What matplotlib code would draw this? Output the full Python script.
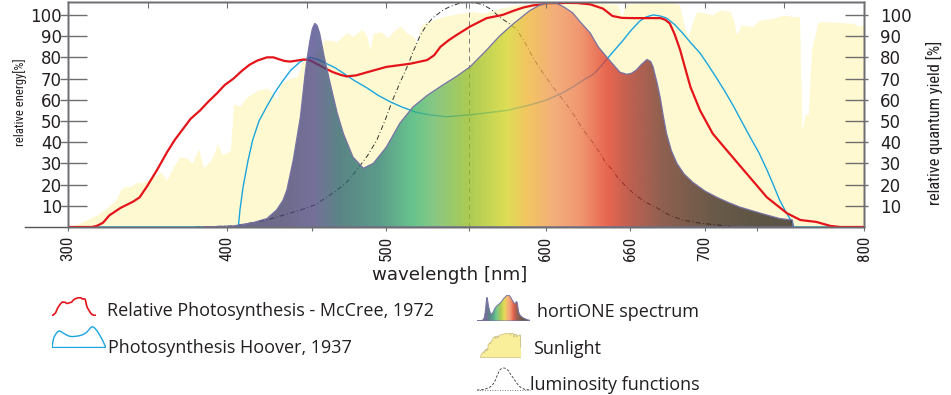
import numpy as np
import matplotlib
matplotlib.use('Agg')
import matplotlib.pyplot as plt
from matplotlib import font_manager as fm
from matplotlib.colors import to_rgb

W, H = 951, 395

# ---- data (wavelength nm, percent) ----
sun_nm = [300, 305, 309, 315, 320, 326, 330, 333, 336, 339, 343, 347, 352, 358, 362,
          366, 370, 375, 378, 382, 385, 388, 391, 394, 397, 402, 404, 408, 412, 416,
          419, 425, 429, 431, 434, 439, 444, 447, 452, 457, 461, 465, 469, 475, 479,
          484.7, 487.8, 489.7, 491.7, 497, 501, 504, 508.5, 513, 517, 519, 522, 529,
          535.5, 544, 554, 561, 571, 582, 592, 610, 630, 645, 648, 650, 660, 675, 684,
          687, 689.5, 692, 695, 701, 704.6, 709.5, 716, 718, 720, 723, 730, 734.5, 743,
          749, 755.5, 759.5, 761, 763, 765, 767, 771, 772, 785, 793, 797.5, 800]
sun_val = [0, 1, 2.5, 4.5, 6.5, 10, 12.7, 17.5, 19, 19, 21, 21, 23, 26, 22,
           28, 33, 32.5, 30, 37, 28, 30, 33, 39.5, 34, 36, 58, 57, 61, 63,
           64.5, 65.5, 63, 60, 68, 70, 71, 78, 79.5, 83, 88.2, 88, 87.4, 91.5, 89.8,
           93.3, 89.8, 83.5, 91.4, 92, 89, 92, 94.8, 91.4, 89.8, 86.8, 95.3, 97.6,
           99.2, 100.5, 101.6, 100.8, 103, 104.7, 105.2, 105.6, 105.6, 105, 99, 105, 105.8, 105.8, 105,
           95, 89.8, 96, 101.6, 100.8, 100, 102.4, 101.6, 97.6, 90.6, 95.3, 94.5, 97.6, 98.4,
           100, 99.2, 99.2, 45.5, 53, 53, 83.5, 96, 96.8, 96.5, 96, 94.5, 96]

mccree_nm = [300, 315, 318, 322, 326, 333, 341, 345, 349.5, 356, 362, 367, 372, 377, 383,
             388, 393.5, 398.5, 404, 409, 414, 419, 425, 429, 433, 436, 439.5, 444, 448,
             452, 456, 461, 466.5, 471, 475, 481, 488, 500, 515, 525.5, 530, 534, 539, 544,
             552.5, 558, 563, 573, 580, 586, 592, 602, 613, 620, 628, 636, 642, 648, 655,
             665, 672, 675, 678, 681, 684.5, 688, 691, 697, 705, 714, 726.5, 739, 751.6,
             760, 770, 779, 785, 800]
mccree_val = [0, 0, 0.5, 2, 5.5, 9, 12, 14, 19, 27, 35, 41, 46, 51, 55,
              59, 63, 67, 70, 73.5, 76.5, 78.5, 80, 80, 79, 78.3, 78, 78.5, 79,
              78.6, 77, 75, 73, 71.8, 71, 71.5, 73, 75.5, 77, 78.7, 81, 85, 88, 90.5,
              94.5, 96.6, 98.5, 100, 102, 103.5, 104.5, 105.3, 105.7, 105.6, 105, 103, 99.5, 98.6, 98.5,
              98.5, 98.5, 97.8, 96, 91, 83.5, 74, 66, 55, 44, 36, 25, 14, 6.5,
              3.3, 2.4, 0.5, 0, 0]

hoover_nm = [300, 407, 408, 410, 413, 416, 420, 425, 430, 435, 440, 446, 452, 457, 462.5,
             468, 473, 480, 488, 495, 502.5, 510, 519, 528, 538, 554, 565, 576, 590, 601,
             610, 617, 624, 630, 635, 640, 648.6, 654, 659, 663, 667.5, 672, 676, 681, 686,
             691, 697, 702, 707.6, 713, 718, 723, 728.4, 734, 739, 743, 747, 751, 755, 756, 800]
hoover_val = [0, 0, 8, 19, 31, 41, 50, 57, 63.5, 69, 74, 78, 80, 79, 77,
              75, 72.5, 69, 65.5, 62, 59, 56.5, 54, 52.8, 52, 53, 54, 55, 57.5, 60,
              63, 66, 69.5, 72, 76, 80.5, 88, 93, 97, 99, 100, 99.5, 98.5, 95.5, 91.5,
              87, 82, 76.5, 70, 63.5, 57, 50, 42.5, 35, 27, 20, 12.7, 7, 2, 0, 0]

lum_nm = [380, 404, 425, 446, 455, 466.5, 475, 481.5, 488, 494, 499, 504, 508.5, 513, 517,
          521, 525, 529, 535, 540, 546, 551, 556, 561, 566, 571, 577, 582, 587, 592, 598,
          604.6, 611, 617, 623, 630, 634, 638, 642, 645, 650, 655, 662, 670, 678, 686, 697,
          707.6, 720]
lum_val = [0, 0.5, 3.3, 8, 10.4, 16, 21, 27, 33.5, 41, 50, 60, 68, 75.5, 83,
           90, 95, 98.5, 102, 104, 105.5, 106, 105.7, 104.7, 102.5, 99, 96, 93, 87, 80, 73,
           66, 60, 53.7, 46.5, 39.5, 35, 30, 27, 23.6, 19.5, 16, 12, 9, 5.5, 3.3, 1.8,
           1, 0]
lum_peak = 552

horti_nm = [385, 404, 416, 425, 431, 435, 437.5, 441.5, 446, 449, 450.5, 452, 453.5, 455,
            456.5, 458, 461, 464.6, 469, 473, 479, 485.5, 491.8, 500, 508.5, 516.7, 525.5,
            535.5, 544, 552.5, 563, 571, 580, 590, 596, 601, 607, 612, 617, 622, 628, 633,
            638.6, 642, 646.7, 651, 654, 657, 660, 663.7, 666, 667.5, 670, 672, 674, 676,
            679, 682.5, 687, 692.6, 700, 707.6, 715, 722, 735, 747, 755, 755.5]
horti_val = [0, 0.5, 2, 4, 8, 12.5, 17.5, 31.6, 52, 72.5, 81, 88, 93.5, 96,
             95, 91.5, 80, 68, 54, 44, 33, 27.7, 30, 37.7, 49, 56.6, 62,
             67, 71, 75.5, 83.5, 90, 96, 102, 104.5, 105.7, 105.5, 103.5, 101, 96.5, 91.5, 85,
             80, 77, 73, 72, 72.5, 74, 76.5, 79, 78, 75.5, 68, 61, 52, 44,
             36, 30, 25, 21, 17, 14, 11.5, 9.4, 6.5, 4, 3.3, 0]

# colour of the hortiONE fill along the wavelength axis
grad_nm = [433, 454, 471, 496, 517, 532, 551, 576, 588, 607, 622, 639, 653, 674, 705, 737]
grad_colors = ['#6E6A8A', '#75709A', '#5A8585', '#5C9C8A', '#68C48E', '#8CC880', '#ABCB55',
               '#DEDE55', '#F2C660', '#F3AD7C', '#F19770', '#E86650', '#C06050', '#8E6050',
               '#6A5A48', '#5C5445']

xtick_pos = [300, 400, 500, 600, 653, 700, 800]
xtick_labels = ['300', '400', '500', '600', '660', '700', '800']
xminor_pos = [453, 552, 733]
top_ticks = [350, 400, 450, 500, 550, 600, 650, 700, 750]
ytick_pos = [10, 20, 30, 40, 50, 60, 70, 80, 90, 100]
ytick_labels = [str(v) for v in ytick_pos]

legend_labels = ['Relative Photosynthesis - McCree, 1972', 'Photosynthesis Hoover, 1937',
                 'hortiONE spectrum', 'Sunlight', 'luminosity functions']

# ---- styles ----
RED = '#E4141B'
BLUE = '#1BA5E0'
SUN = '#FEF9D0'
FRAME = '#6D6E71'
TXT = '#231F20'
OUTLINE = '#7672A6'
ALPHA = 0.75


def narrow_font():
    names = {f.name for f in fm.fontManager.ttflist}
    for n in ['Liberation Sans Narrow', 'Arial Narrow', 'Roboto Condensed',
              'DejaVu Sans Condensed', 'Noto Sans Condensed', 'Open Sans Condensed']:
        if n in names:
            return fm.FontProperties(family=n)
    for f in fm.fontManager.ttflist:
        if f.name == 'DejaVu Sans' and f.stretch == 'condensed':
            return fm.FontProperties(family='DejaVu Sans', stretch='condensed')
    return fm.FontProperties(family='Liberation Sans')


fig = plt.figure(figsize=(W / 100, H / 100), dpi=100)
fig.patch.set_facecolor('white')
renderer = fig.canvas.get_renderer()


def sized(fp, text, target_px):
    # font size that makes `text` about target_px long
    p = fp.copy()
    p.set_size(10)
    w = renderer.get_text_width_height_descent(text, p, ismath=False)[0]
    p.set_size(10 * target_px / w)
    return p


NARROW = narrow_font()
LEGFP = sized(fm.FontProperties(family=['Open Sans', 'DejaVu Sans']), legend_labels[0], 328)


def px_axes(x0, y0, x1, y1):
    return fig.add_axes([x0 / W, 1 - y1 / H, (x1 - x0) / W, (y1 - y0) / H])


def gradient_fill(a, nm, val, alpha, bg, lw, xr):
    poly = a.fill(nm, val, facecolor='none', edgecolor=OUTLINE, lw=lw, zorder=5)[0]
    xs = np.linspace(xr[0], xr[1], 700)
    rgb = np.array([to_rgb(c) for c in grad_colors])
    cols = np.stack([np.interp(xs, grad_nm, rgb[:, i]) for i in range(3)], axis=-1)
    bg = np.array(to_rgb(bg))
    base = np.clip((cols - (1 - alpha) * bg) / alpha, 0, 1)
    im = a.imshow(base[None, :, :], extent=[xr[0], xr[1], 0, 107], aspect='auto',
                  alpha=alpha, zorder=4, interpolation='bilinear')
    im.set_clip_path(poly)


ax = px_axes(68, 2, 864, 227)
ax.fill_between(sun_nm, sun_val, color=SUN, lw=0, zorder=1)
ax.axvline(lum_peak, color='#7a7a7a', lw=0.7, ls=(0, (5, 4)), zorder=2)
ax.plot(lum_nm, lum_val, color='#333333', lw=0.7, ls=(0, (5, 2.5, 1, 2.5)), zorder=2)
ax.plot(hoover_nm, hoover_val, color=BLUE, lw=1.0, zorder=3)
ax.plot(mccree_nm, mccree_val, color=RED, lw=1.6, zorder=3, solid_joinstyle='round')
gradient_fill(ax, horti_nm, horti_val, ALPHA, SUN, 0.9, (380, 760))

ax.set_xlim(300, 800)
ax.set_ylim(0, 106.1)
ax.axhline(0, xmin=-43 / 796, xmax=0, clip_on=False, color='#555555', lw=1)

ax.set_xticks(xtick_pos, xtick_labels)
ax.set_xticks(xminor_pos, minor=True)
ax.tick_params(axis='x', which='both', direction='out', length=3, width=0.8,
               color=FRAME, pad=3.5, labelrotation=90, labelcolor=TXT)
xfp = sized(NARROW, '300', 25)
for lab in ax.get_xticklabels():
    lab.set_fontproperties(xfp)

ax.yaxis.remove_overlapping_locs = False
ax.set_yticks(ytick_pos, ytick_labels)
ax.set_yticks(ytick_pos, minor=True)
ax.tick_params(axis='y', which='major', direction='in', length=14, width=1,
               color=FRAME, pad=4.3, labelsize=12, labelcolor=TXT)
ax.tick_params(axis='y', which='minor', direction='out', length=6, width=1, color=FRAME)

axr = ax.twinx()
axr.set_ylim(0, 106.1)
axr.yaxis.remove_overlapping_locs = False
axr.set_yticks(ytick_pos, ytick_labels)
axr.set_yticks(ytick_pos, minor=True)
axr.tick_params(axis='y', which='major', direction='in', length=14, width=1,
                color=FRAME, pad=11.5, labelsize=12, labelcolor=TXT)
axr.tick_params(axis='y', which='minor', direction='out', length=3, width=1, color=FRAME)

axt = ax.twiny()
axt.set_xlim(300, 800)
axt.set_xticks(top_ticks)
axt.tick_params(axis='x', direction='in', length=4, width=0.8, color=FRAME, labeltop=False)

for a in (ax, axr, axt):
    for s in a.spines.values():
        s.set_color(FRAME)
        s.set_linewidth(1)
ax.spines['bottom'].set_color('#555555')

fig.text(20 / W, 1 - 102.5 / H, 'relative energy[%]', rotation=90, ha='center', va='center',
         fontproperties=sized(NARROW, 'relative energy[%]', 86), color=TXT)
fig.text(934 / W, 1 - 122.5 / H, 'relative quantum yield [%]', rotation=90, ha='center',
         va='center', fontproperties=sized(NARROW, 'relative quantum yield [%]', 163), color=TXT)
xl_fp = sized(fm.FontProperties(family='DejaVu Sans'), 'wavelength [nm]', 156)
fig.text(450 / W, 1 - 275 / H, 'wavelength [nm]', ha='center', va='center',
         fontproperties=xl_fp, color=TXT)

# ---- legend, glyphs drawn from the same series ----
ic = px_axes(52, 297, 96, 316)
ic.plot(mccree_nm, mccree_val, color=RED, lw=1.2)
ic.set_xlim(306, 800)
ic.set_ylim(-4, 110)
ic.axis('off')

ic = px_axes(52, 326, 106, 348)
ic.plot(hoover_nm, hoover_val, color=BLUE, lw=1.0)
ic.axhline(0, color=BLUE, lw=1.0)
ic.set_xlim(406, 757)
ic.set_ylim(-4, 104)
ic.axis('off')

ic = px_axes(477, 295, 530, 321)
gradient_fill(ic, horti_nm, horti_val, 1.0, 'white', 0.7, (380, 760))
ic.set_xlim(385, 758)
ic.set_ylim(0, 106)
ic.axis('off')

ic = px_axes(480, 333, 520, 357)
ic.fill_between(sun_nm, sun_val, color='#F9EE9A', edgecolor='#CFC58F', lw=0.6)
ic.set_xlim(320, 760)
ic.set_ylim(0, 106)
ic.axis('off')

ic = px_axes(477, 368, 530, 390)
ic.plot(lum_nm, lum_val, color='#333333', lw=0.6, ls=(0, (3, 2)), clip_on=False)
ic.axhline(0, color='#555555', lw=0.6, ls=(0, (1, 2)), clip_on=False)
ic.set_xlim(380, 720)
ic.set_ylim(0, 106)
ic.axis('off')

leg_pos = [(107, 316), (108, 353), (537, 317), (533, 354), (530, 390)]
for (x, y), lab in zip(leg_pos, legend_labels):
    fig.text(x / W, 1 - y / H, lab, ha='left', va='baseline', fontproperties=LEGFP, color=TXT)

fig.savefig('out.png', dpi=100, facecolor='white')
